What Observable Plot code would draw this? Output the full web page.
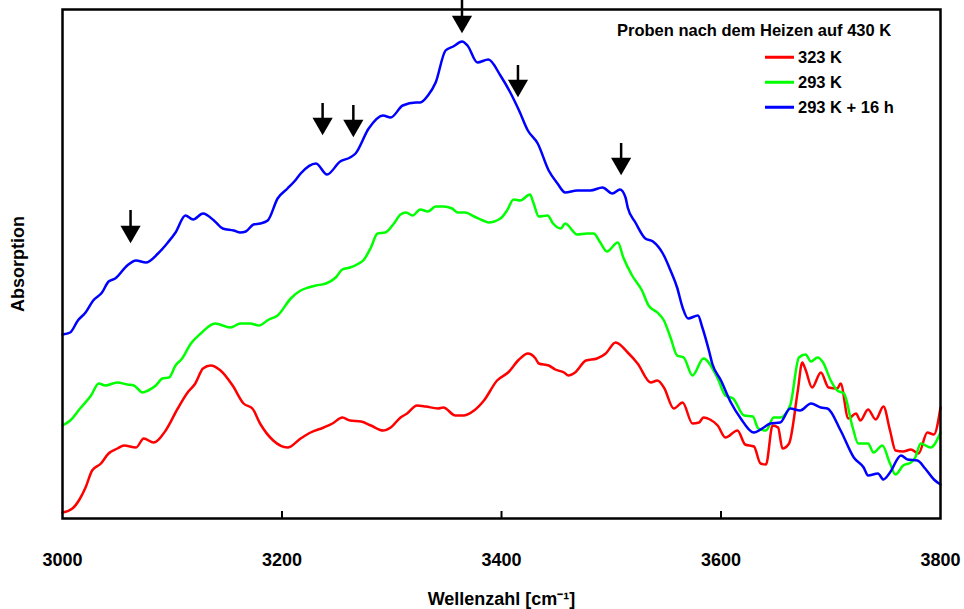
<!DOCTYPE html>
<html><head><meta charset="utf-8">
<script src="https://cdn.jsdelivr.net/npm/d3@7"></script>
<script src="https://cdn.jsdelivr.net/npm/@observablehq/plot@0.6"></script>
<style>
body{margin:0;background:#fff;font-family:Arial,"Liberation Sans",sans-serif;}
#wrap{position:relative;width:964px;height:609px;overflow:hidden;}
.lg{position:absolute;font-weight:bold;font-size:16.5px;color:#000;transform:translateY(-50%);white-space:nowrap;line-height:1;}
.lgline{position:absolute;width:29px;height:2.5px;transform:translateY(-50%);}
</style></head>
<body><div id="wrap"></div>
<script>
// ---- data (wavenumber in cm^-1, absorption in arbitrary units) ----
const seriesNames = ["323 K", "293 K", "293 K + 16 h"];
const seriesColors = ["#ff0000", "#00ff00", "#0000ff"];
const xTicks = [3000, 3200, 3400, 3600, 3800];
const innerTicks = [3200, 3400, 3600];

const redWave = [3000,3009,3016,3021,3027,3035,3042,3050,3056,3067,3074,3083,3094,3105,3114,3121,3128,3135,3144,3155,3165,3173,3180,3192,3205,3217,3226,3238,3246,3255,3262,3272,3281,3292,3299,3308,3314,3323,3331,3342,3347,3358,3365,3375,3384,3396,3406,3416,3424,3431,3434,3443,3449,3457,3461,3467,3477,3487,3495,3504,3515,3524,3536,3542,3548,3557,3565,3574,3580,3584,3590,3597,3604,3615,3622,3630,3636,3641,3647,3652,3656,3662,3670,3674,3677,3683,3691,3698,3706,3709,3716,3723,3727,3734,3741,3748,3754,3759,3766,3773,3780,3788,3794,3800];
const redAbs = [6,10,20,31,48,55,65,70,73,71,80,76,88,110,126,135,150,153,148,133,115,110,95,78,71,80,86,91,95,101,98,97,93,88,91,101,105,113,112,110,111,103,103,108,118,138,146,159,165,160,155,153,149,146,143,146,158,160,165,176,166,155,136,138,131,110,116,95,96,101,99,93,81,88,74,72,55,54,93,91,70,75,128,156,149,131,146,131,130,135,100,105,98,109,99,112,88,68,67,69,65,86,84,111];

const greenWave = [3000,3007,3016,3026,3033,3039,3050,3059,3065,3073,3078,3085,3091,3097,3103,3109,3117,3126,3139,3153,3162,3171,3179,3188,3196,3208,3217,3224,3231,3240,3249,3255,3262,3270,3274,3281,3287,3294,3302,3308,3313,3319,3326,3333,3340,3347,3355,3360,3367,3375,3383,3388,3399,3405,3411,3417,3426,3429,3434,3442,3447,3454,3458,3469,3478,3484,3490,3496,3506,3511,3519,3528,3534,3542,3548,3554,3560,3566,3574,3584,3597,3604,3611,3621,3629,3634,3641,3648,3654,3663,3671,3677,3682,3688,3693,3700,3706,3712,3720,3725,3734,3739,3747,3754,3759,3766,3773,3777,3782,3791,3800];
const greenAbs = [93,98,110,123,135,133,136,134,133,126,128,133,140,141,153,160,175,185,195,191,195,195,193,199,203,220,228,231,233,235,241,249,251,255,258,271,285,286,295,304,306,303,309,307,312,312,310,306,306,302,298,296,300,308,319,318,324,316,302,303,295,290,295,284,285,285,276,267,276,261,243,228,213,206,198,181,163,161,143,160,140,123,120,103,102,90,88,101,101,113,161,164,157,161,156,138,128,125,91,75,75,66,73,55,44,53,56,61,75,71,86];

const blueWave = [3000,3007,3014,3021,3028,3036,3042,3048,3059,3067,3076,3087,3096,3103,3112,3119,3128,3138,3146,3156,3162,3167,3174,3180,3187,3196,3205,3212,3217,3231,3241,3253,3262,3267,3279,3292,3299,3310,3322,3326,3333,3340,3349,3356,3364,3369,3378,3388,3399,3408,3416,3424,3433,3443,3451,3458,3469,3481,3492,3501,3508,3513,3515,3522,3531,3538,3547,3554,3560,3565,3570,3579,3583,3589,3592,3600,3609,3618,3630,3639,3645,3654,3663,3672,3682,3691,3697,3709,3721,3730,3734,3743,3748,3754,3764,3770,3779,3786,3794,3800];
const blueAbs = [184,186,198,206,218,226,237,240,253,258,256,265,276,286,303,299,305,298,290,288,286,287,294,295,298,320,330,338,345,355,344,357,361,365,390,403,401,413,416,416,423,436,468,472,477,473,456,459,443,426,408,388,375,348,335,326,328,328,331,325,329,321,311,296,280,277,265,248,231,211,200,203,191,168,155,138,116,100,86,91,95,96,110,108,115,111,110,88,61,51,43,45,39,46,63,59,58,50,39,34];

// marker arrows (down-pointing), tip and tail absorption levels
const arrowWave = [3062, 3237, 3265, 3364, 3415, 3509];
const arrowTip  = [275, 383, 381, 485, 421, 343];
const arrowTail = [308, 415, 413, 518, 453, 375];

// ---- build table ----
const waves = [redWave, greenWave, blueWave];
const absVals = [redAbs, greenAbs, blueAbs];
const rows = seriesNames.flatMap((name, s) =>
  waves[s].map((w, i) => ({series: name, wave: w, abs: absVals[s][i]})));
const arrows = arrowWave.map((w, i) => ({wave: w, tip: arrowTip[i], tail: arrowTail[i]}));

const chart = Plot.plot({
  width: 964,
  height: 609,
  marginTop: 9,
  marginBottom: 91,
  marginLeft: 62,
  marginRight: 24,
  style: {fontFamily: "Arial, 'Liberation Sans', sans-serif", background: "#fff", overflow: "visible"},
  x: {domain: [3000, 3800]},
  y: {domain: [0, 509], axis: null},
  color: {domain: seriesNames, range: seriesColors},
  marks: [
    Plot.ruleX(innerTicks, {x: d => d, y1: 0, y2: 7, stroke: "black", strokeWidth: 2}),
    Plot.axisX({ticks: xTicks, tickSize: 0, tickPadding: 35, tickFormat: d => String(d),
      fontSize: 18, fontWeight: "bold", label: null}),
    Plot.line(rows, {x: "wave", y: "abs", z: "series", stroke: "series",
      strokeWidth: 2.5, curve: "monotone-x"}),
    Plot.ruleX(arrows, {x: "wave", y1: d => d.tip + 8, y2: "tail", stroke: "black", strokeWidth: 2.5}),
    Plot.dot(arrows, {x: "wave", y: "tip", dy: -12, symbol: "triangle", rotate: 180, r: 7.5,
      fill: "black", stroke: "none"}),
    Plot.frame({stroke: "black", strokeWidth: 2.5}),
    Plot.text(["Absorption"], {frameAnchor: "left", rotate: -90, dx: -44,
      textAnchor: "middle", lineAnchor: "middle",
      fontSize: 18, fontWeight: "bold", fill: "black"}),
    Plot.text(["Wellenzahl [cm⁻¹]"], {frameAnchor: "bottom", dy: 81,
      textAnchor: "middle", lineAnchor: "middle",
      fontSize: 18, fontWeight: "bold", fill: "black"})
  ]
});
const wrap = document.getElementById("wrap");
wrap.appendChild(chart);

// ---- legend ----
const title = document.createElement("div");
title.className = "lg";
title.style.left = "617px"; title.style.top = "30px";
title.textContent = "Proben nach dem Heizen auf 430 K";
wrap.appendChild(title);
const rowY = [57, 82, 107];
seriesNames.forEach((name, i) => {
  const ln = document.createElement("div");
  ln.className = "lgline";
  ln.style.left = "765px"; ln.style.top = rowY[i] + "px";
  ln.style.background = seriesColors[i];
  wrap.appendChild(ln);
  const t = document.createElement("div");
  t.className = "lg";
  t.style.left = "798px"; t.style.top = rowY[i] + "px";
  t.textContent = name;
  wrap.appendChild(t);
});
</script>
</body></html>
